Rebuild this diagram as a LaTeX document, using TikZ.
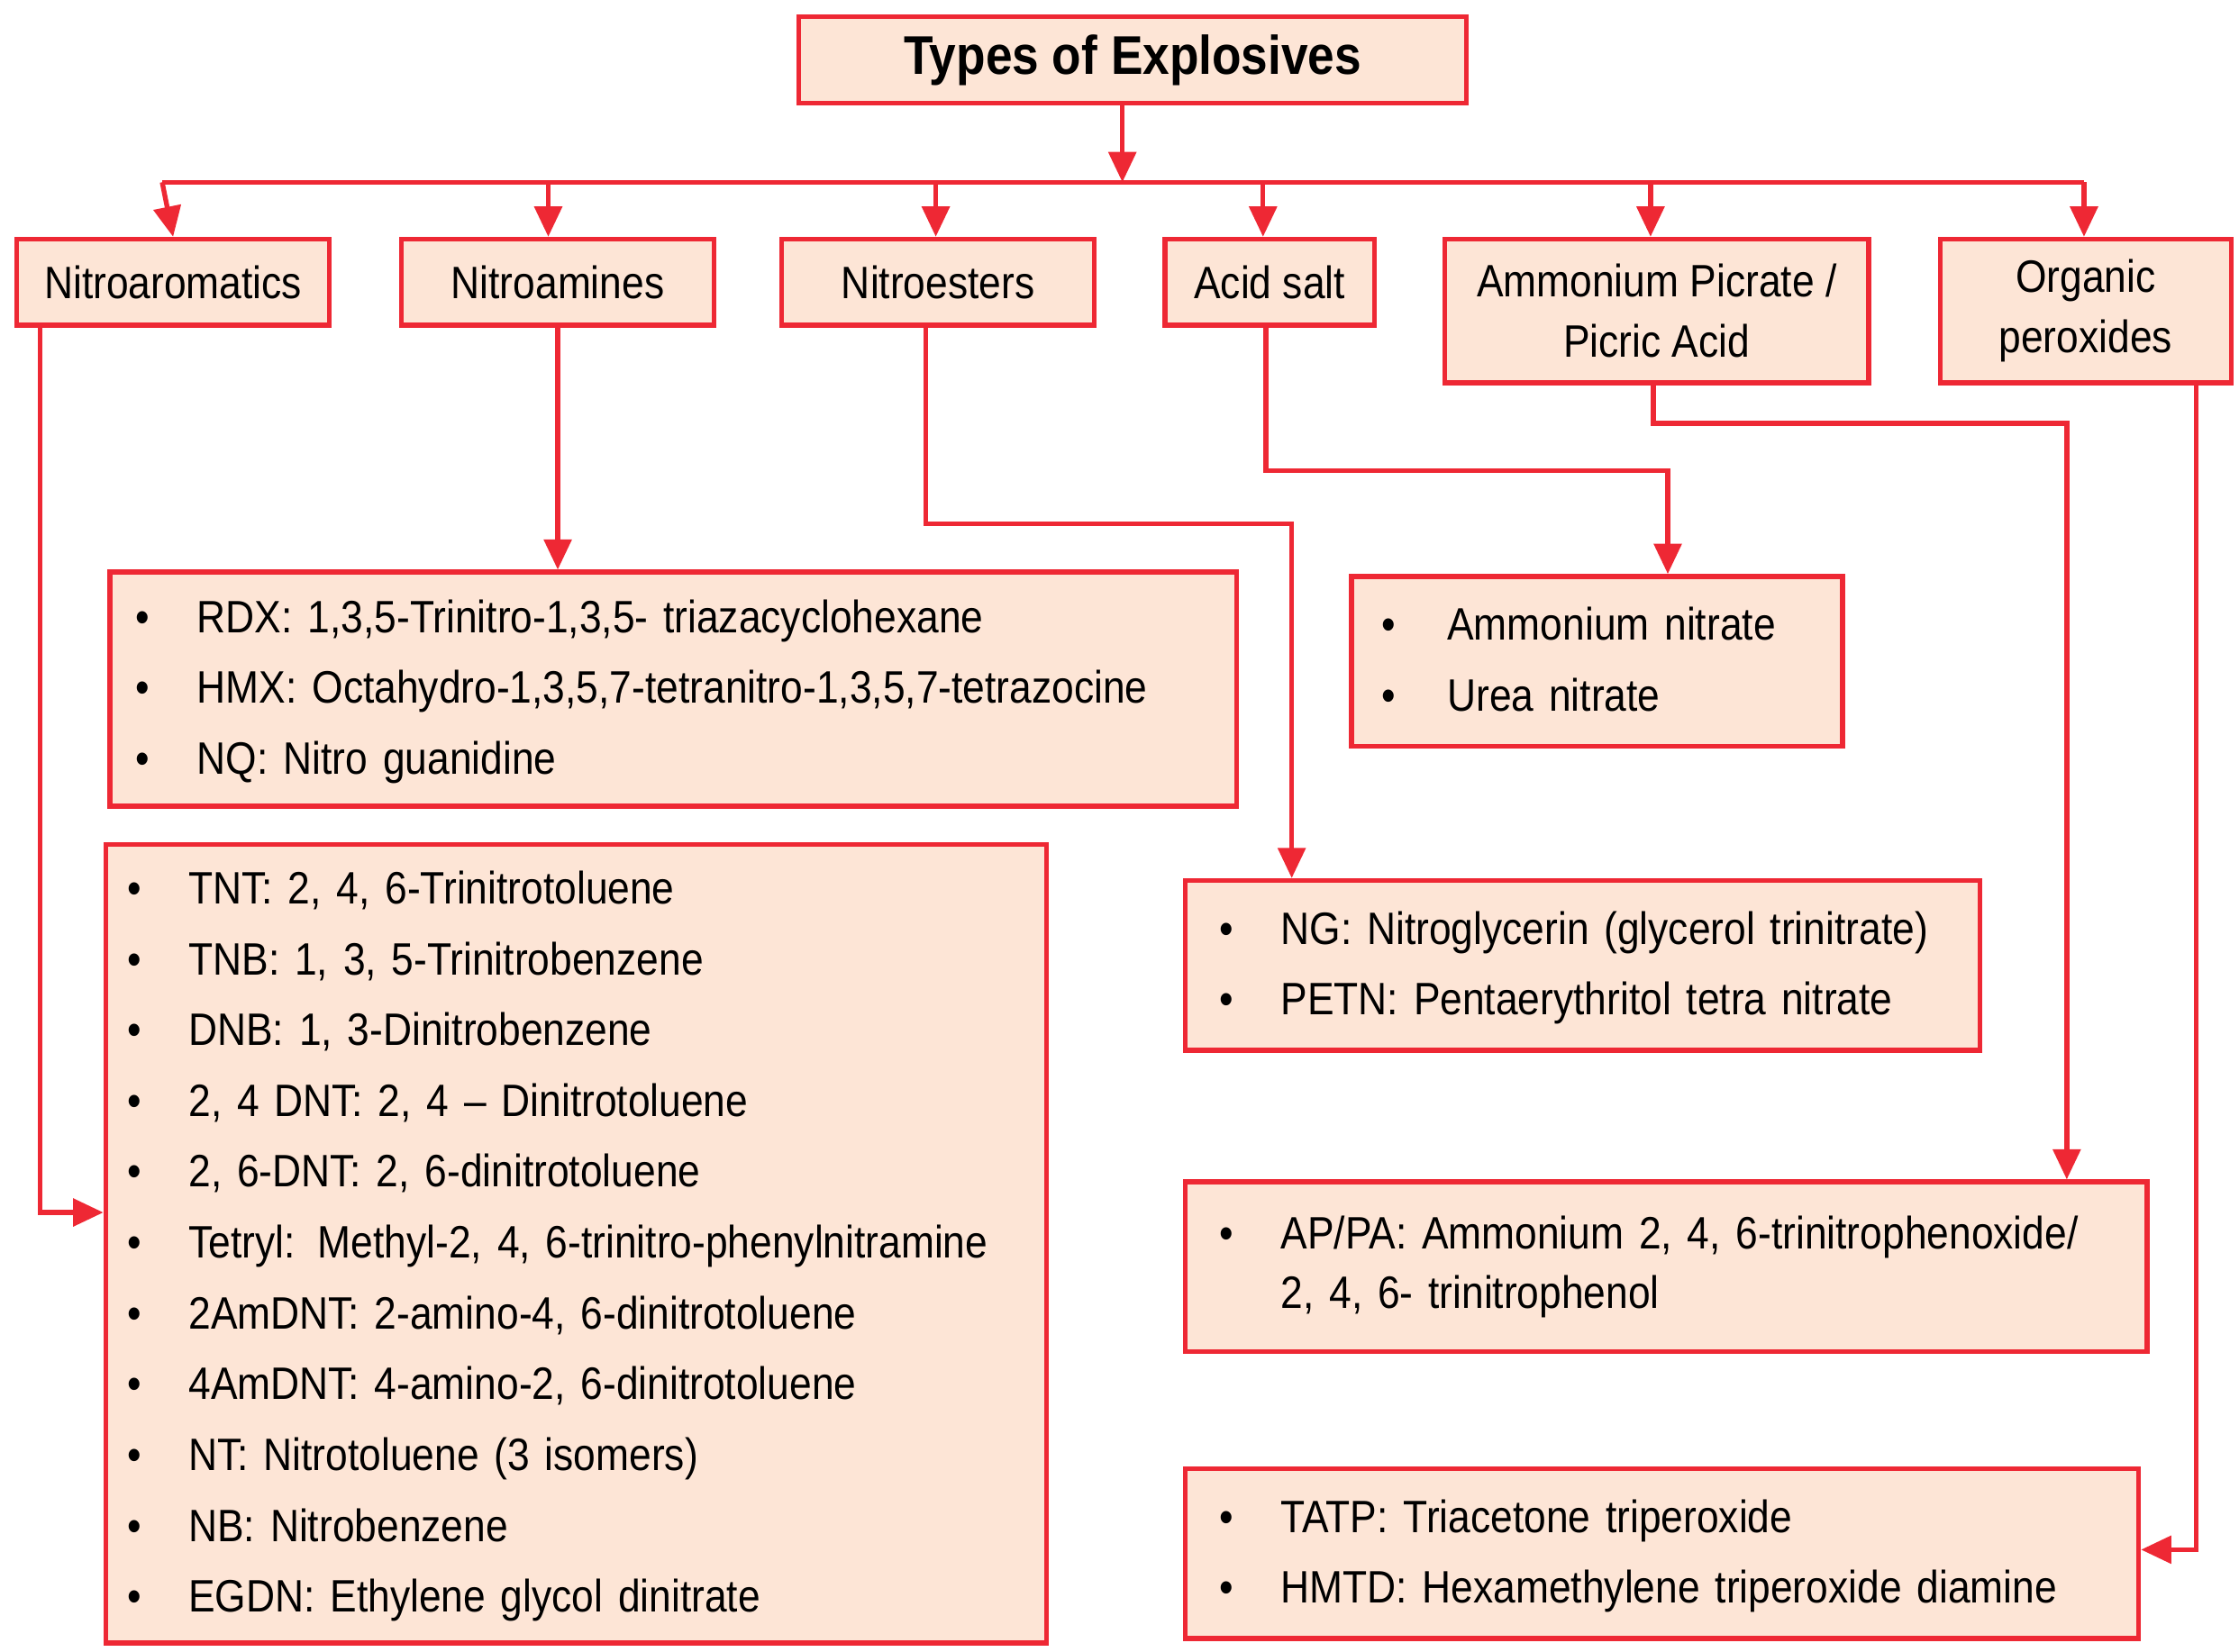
\documentclass[tikz,border=0pt]{standalone}
\usepackage{fontspec}
\setmainfont{Liberation Sans}[FakeStretch=0.88]
\usetikzlibrary{arrows.meta}
\definecolor{boxred}{RGB}{238,40,52}
\definecolor{boxfill}{RGB}{253,229,214}
\tikzset{
  box/.style={draw=boxred, line width=1.6pt, fill=boxfill, anchor=north west,
    inner sep=0pt, font=\fontsize{15}{18}\selectfont, align=center},
  list/.style={box, align=left},
  link/.style={draw=boxred, line width=1.6pt, -{Triangle[width=9pt,length=10pt]}}
}
\newcommand{\bl}{\textbullet}
\begin{document}
\begin{tikzpicture}[x=0.0166667cm, y=-0.0166667cm]
  \useasboundingbox (0,0) rectangle (1560,1151);
  %TOP
  \node[box, minimum width=7.75cm, minimum height=1cm, font=\fontsize{18}{21}\selectfont\bfseries] (top) at (555,10) {Types of Explosives};
  %CATEGORIES
  \node[box, minimum width=3.63cm, minimum height=1cm] (aro) at (10,165) {Nitroaromatics};
  \node[box, minimum width=3.63cm, minimum height=1cm] (ami) at (278,165) {Nitroamines};
  \node[box, minimum width=3.63cm, minimum height=1cm] (est) at (543,165) {Nitroesters};
  \node[box, minimum width=2.43cm, minimum height=1cm] (acid) at (810,165) {Acid salt};
  \node[box, minimum width=4.92cm, minimum height=1.67cm] (pic) at (1005,165) {Ammonium Picrate /\\[2pt]Picric Acid};
  \node[box, minimum width=3.38cm, minimum height=1.67cm] (org) at (1350,165) {Organic\\[2pt]peroxides};
  %LISTS
  \node[list, minimum width=13.08cm, minimum height=2.72cm, text width=13.08cm] (rdx) at (75,397) {\renewcommand{\arraystretch}{1.3}%
    \begin{tabular}{@{\hspace{0.3cm}}l@{\hspace{0.55cm}}l}
    \bl & RDX: 1,3,5-Trinitro-1,3,5- triazacyclohexane\\
    \bl & HMX: Octahydro-1,3,5,7-tetranitro-1,3,5,7-tetrazocine\\
    \bl & NQ: Nitro guanidine
    \end{tabular}};
  \node[list, minimum width=5.7cm, minimum height=1.97cm, text width=5.7cm] (salt) at (940,400) {\renewcommand{\arraystretch}{1.3}%
    \begin{tabular}{@{\hspace{0.35cm}}l@{\hspace{0.6cm}}l}
    \bl & Ammonium nitrate\\
    \bl & Urea nitrate
    \end{tabular}};
  \node[list, minimum width=10.92cm, minimum height=9.27cm, text width=10.92cm] (tnt) at (72,587) {\renewcommand{\arraystretch}{1.3}%
    \begin{tabular}{@{\hspace{0.25cm}}l@{\hspace{0.55cm}}l}
    \bl & TNT: 2, 4, 6-Trinitrotoluene\\
    \bl & TNB: 1, 3, 5-Trinitrobenzene\\
    \bl & DNB: 1, 3-Dinitrobenzene\\
    \bl & 2, 4 DNT: 2, 4 -- Dinitrotoluene\\
    \bl & 2, 6-DNT: 2, 6-dinitrotoluene\\
    \bl & Tetryl: Methyl-2, 4, 6-trinitro-phenylnitramine\\
    \bl & 2AmDNT: 2-amino-4, 6-dinitrotoluene\\
    \bl & 4AmDNT: 4-amino-2, 6-dinitrotoluene\\
    \bl & NT: Nitrotoluene (3 isomers)\\
    \bl & NB: Nitrobenzene\\
    \bl & EGDN: Ethylene glycol dinitrate
    \end{tabular}};
  \node[list, minimum width=9.23cm, minimum height=1.97cm, text width=9.23cm] (ng) at (824,612) {\renewcommand{\arraystretch}{1.3}%
    \begin{tabular}{@{\hspace{0.4cm}}l@{\hspace{0.55cm}}l}
    \bl & NG: Nitroglycerin (glycerol trinitrate)\\
    \bl & PETN: Pentaerythritol tetra nitrate
    \end{tabular}};
  \node[list, minimum width=11.17cm, minimum height=1.97cm, text width=11.17cm] (ap) at (824,822) {\renewcommand{\arraystretch}{1.1}%
    \begin{tabular}{@{\hspace{0.4cm}}l@{\hspace{0.55cm}}l}
    \bl & AP/PA: Ammonium 2, 4, 6-trinitrophenoxide/\\
        & 2, 4, 6- trinitrophenol
    \end{tabular}};
  \node[list, minimum width=11.07cm, minimum height=1.97cm, text width=11.07cm] (tatp) at (824,1022) {\renewcommand{\arraystretch}{1.3}%
    \begin{tabular}{@{\hspace{0.4cm}}l@{\hspace{0.55cm}}l}
    \bl & TATP: Triacetone triperoxide\\
    \bl & HMTD: Hexamethylene triperoxide diamine
    \end{tabular}};
  %BUS
  \coordinate (bus) at (782,127);
  \draw[link] (top.south -| bus) -- (bus);
  \draw[draw=boxred, line width=1.6pt] (113,127) -- (1452,127);
  \draw[link] (113,127) -- (113,165 -| aro.north);
  \draw[link] (382,127) -- (382,165);
  \draw[link] (652,127) -- (652,165);
  \draw[link] (880,127) -- (880,165);
  \draw[link] (1150,127) -- (1150,165);
  \draw[link] (1452,127) -- (1452,165);
  %CONNECTORS
  \draw[link] (ami.south) -- (ami.south |- rdx.north);
  \coordinate (a1) at (28,845);
  \draw[link] (aro.south -| a1) -- (a1) -- (a1 -| tnt.west);
  \coordinate (e1) at (645,365); \coordinate (e2) at (900,365);
  \draw[link] (est.south -| e1) -- (e1) -- (e2) -- (e2 |- ng.north);
  \coordinate (s1) at (882,328); \coordinate (s2) at (1162,328);
  \draw[link] (acid.south -| s1) -- (s1) -- (s2) -- (s2 |- salt.north);
  \coordinate (p1) at (1152,295); \coordinate (p2) at (1440,295);
  \draw[link] (pic.south -| p1) -- (p1) -- (p2) -- (p2 |- ap.north);
  \coordinate (o1) at (1530,1080);
  \draw[link] (org.south -| o1) -- (o1) -- (o1 -| tatp.east);
\end{tikzpicture}
\end{document}
